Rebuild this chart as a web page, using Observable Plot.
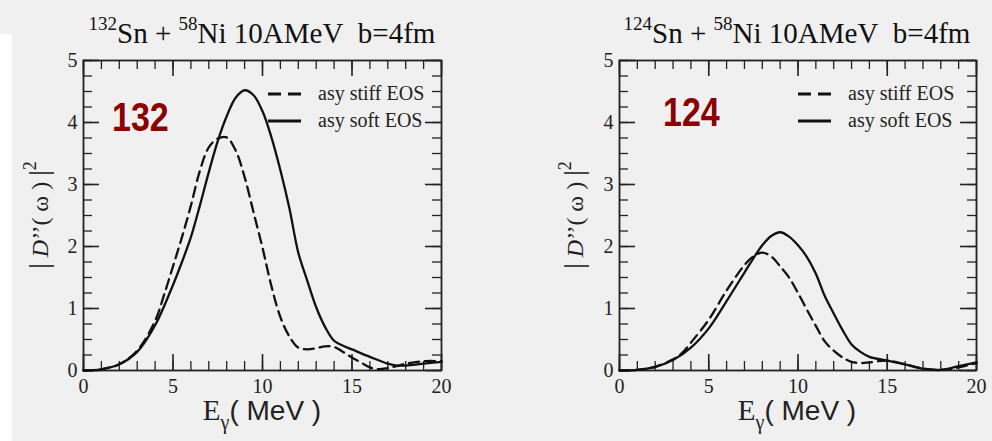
<!DOCTYPE html>
<html>
<head>
<meta charset="utf-8">
<script src="https://cdn.jsdelivr.net/npm/d3@7"></script>
<script src="https://cdn.jsdelivr.net/npm/@observablehq/plot@0.6"></script>
<style>
  html, body { margin: 0; padding: 0; background: #f0f0f0; }
  #wrap { position: relative; width: 992px; height: 441px; overflow: hidden; background: #f0f0f0; }
  .panel { position: absolute; top: 45px; width: 496px; height: 396px; }
  .title { position: absolute; top: 19px; width: 420px; text-align: center; font-family: "Liberation Serif", "Times New Roman", serif; font-size: 29px; line-height: 29px; color: #111; white-space: nowrap; }
  .title .sup { font-size: 19px; position: relative; top: -13px; }
  .big { position: absolute; font-family: "Liberation Sans", Arial, sans-serif; font-weight: bold; font-size: 41px; line-height: 41px; color: #8b0000; transform: scaleX(0.83); transform-origin: 0 0; }
  .ylab { position: absolute; font-family: "Liberation Serif", "Times New Roman", serif; font-size: 24px; line-height: 24px; color: #222; white-space: nowrap; transform: translate(-50%, -50%) rotate(-90deg); }
  .ylab .bar { font-size: 28px; }
  .ylab .sq { font-size: 18px; position: relative; top: -12px; }
  .xlab { position: absolute; top: 396px; transform: translateX(-50%); font-family: "Liberation Sans", Arial, sans-serif; font-size: 28px; line-height: 28px; color: #222; white-space: nowrap; }
  .xlab .e { font-family: "Liberation Serif", "Times New Roman", serif; font-size: 29px; }
  .xlab .g { font-family: "Liberation Serif", "Times New Roman", serif; font-size: 20px; position: relative; top: 9px; }
  .leg { position: absolute; font-family: "Liberation Serif", "Times New Roman", serif; font-size: 20px; color: #222; white-space: nowrap; }
  .leg div { height: 27px; line-height: 27px; display: flex; align-items: center; }
  .leg svg { margin-right: 17px; }
</style>
</head>
<body>
<div id="wrap">
  <div style="position:absolute;left:0;top:34px;width:12px;height:407px;background:#fff"></div>
</div>
<script>
// ---- data ----
const E132soft  = [0, 1, 2, 3, 4, 5, 5.5, 6, 6.5, 7, 7.5, 8, 8.5, 9, 9.5, 10, 10.5, 11, 11.5, 12, 12.5, 13, 13.5, 14, 14.5, 15, 16, 17, 17.5, 18, 19, 20];
const V132soft  = [0, 0.02, 0.1, 0.3, 0.73, 1.38, 1.75, 2.15, 2.66, 3.2, 3.7, 4.1, 4.4, 4.52, 4.44, 4.18, 3.76, 3.23, 2.62, 1.9, 1.45, 1.02, 0.7, 0.48, 0.4, 0.34, 0.22, 0.11, 0.08, 0.08, 0.11, 0.14];

const E132stiff = [0, 1, 2, 3, 4, 4.5, 5, 5.5, 6, 6.5, 7, 7.5, 8, 8.5, 9, 9.5, 10, 10.5, 11, 11.5, 12, 12.5, 13, 13.5, 14, 14.5, 15, 15.5, 16, 16.5, 17, 17.5, 18, 19, 20];
const V132stiff = [0, 0.02, 0.1, 0.32, 0.8, 1.22, 1.68, 2.15, 2.66, 3.22, 3.6, 3.74, 3.76, 3.55, 3.12, 2.55, 1.98, 1.36, 0.86, 0.55, 0.37, 0.34, 0.36, 0.39, 0.38, 0.3, 0.21, 0.13, 0.05, 0.02, 0.04, 0.07, 0.11, 0.15, 0.15];

const E124soft  = [0, 1, 2, 3, 4, 5, 6, 7, 7.5, 8, 8.5, 9, 9.5, 10, 10.5, 11, 11.5, 12, 12.5, 13, 13.5, 14, 15, 16, 17, 18, 19, 20];
const V124soft  = [0, 0.01, 0.06, 0.17, 0.37, 0.68, 1.12, 1.58, 1.81, 2.02, 2.17, 2.23, 2.16, 2.02, 1.83, 1.56, 1.2, 0.92, 0.65, 0.42, 0.3, 0.22, 0.16, 0.1, 0.03, 0.01, 0.07, 0.13];

const E124stiff = [0, 1, 2, 3, 3.5, 4, 5, 6, 7, 7.5, 8, 8.5, 9, 9.5, 10, 10.5, 11, 11.5, 12, 12.5, 13, 13.5, 14, 15, 16, 17, 18, 19, 20];
const V124stiff = [0, 0.01, 0.06, 0.18, 0.28, 0.45, 0.82, 1.29, 1.7, 1.84, 1.9, 1.84, 1.68, 1.5, 1.25, 0.98, 0.72, 0.47, 0.32, 0.21, 0.14, 0.12, 0.13, 0.16, 0.1, 0.03, 0.01, 0.05, 0.12];

const xMajor = [0, 5, 10, 15, 20];
const xMinor = d3.range(0, 21, 1);
const yMajor = [0, 1, 2, 3, 4, 5];
const yMinor = d3.range(0, 5.001, 0.25);
const legendLabels = ["asy stiff EOS", "asy soft EOS"];
const panelLabels = ["132", "124"];
const titleMass = ["132", "124"];

function pts(E, V) { return E.map((e, i) => ({E: e, v: V[i]})); }

function makePlot(soft, stiff, mL, mR) {
  const maj = 16, mn = 9;
  return Plot.plot({
    width: 496, height: 396,
    marginTop: 15, marginBottom: 71, marginLeft: mL, marginRight: mR,
    x: {domain: [0, 20]},
    y: {domain: [0, 5]},
    style: {background: "transparent", fontFamily: "Liberation Serif, Times New Roman, serif", fontSize: "20px", color: "#222", overflow: "visible"},
    marks: [
      Plot.ruleX(xMinor, {x: d => d, y1: () => 0, y2: () => 0, insetBottom: mn, stroke: "#222", strokeWidth: 1.3}),
      Plot.ruleX(xMajor, {x: d => d, y1: () => 0, y2: () => 0, insetBottom: maj, stroke: "#222", strokeWidth: 1.6}),
      Plot.ruleX(xMinor, {x: d => d, y1: () => 5, y2: () => 5, insetBottom: -mn, stroke: "#222", strokeWidth: 1.3}),
      Plot.ruleX(xMajor, {x: d => d, y1: () => 5, y2: () => 5, insetBottom: -maj, stroke: "#222", strokeWidth: 1.6}),
      Plot.ruleY(yMinor, {y: d => d, x1: () => 0, x2: () => 0, insetRight: -mn, stroke: "#222", strokeWidth: 1.3}),
      Plot.ruleY(yMajor, {y: d => d, x1: () => 0, x2: () => 0, insetRight: -maj, stroke: "#222", strokeWidth: 1.6}),
      Plot.ruleY(yMinor, {y: d => d, x1: () => 20, x2: () => 20, insetLeft: -mn, stroke: "#222", strokeWidth: 1.3}),
      Plot.ruleY(yMajor, {y: d => d, x1: () => 20, x2: () => 20, insetLeft: -maj, stroke: "#222", strokeWidth: 1.6}),
      Plot.frame({stroke: "#222", strokeWidth: 1.8}),
      Plot.axisX({ticks: xMajor, tickSize: 0, tickPadding: 8, label: null, tickFormat: d => String(d)}),
      Plot.axisY({ticks: yMajor, tickSize: 0, tickPadding: 6, label: null, tickFormat: d => String(d)}),
      Plot.line(stiff, {x: "E", y: "v", curve: "catmull-rom", stroke: "#111", strokeWidth: 2.3, strokeDasharray: "10,6"}),
      Plot.line(soft, {x: "E", y: "v", curve: "catmull-rom", stroke: "#111", strokeWidth: 2.3})
    ]
  });
}

const wrap = document.getElementById("wrap");
const panels = [
  {left: 0, mL: 83, mR: 55, soft: pts(E132soft, V132soft), stiff: pts(E132stiff, V132stiff), cx: 262, bigX: 112, bigY: 97, ylx: 40, legX: 268},
  {left: 496, mL: 123, mR: 16, soft: pts(E124soft, V124soft), stiff: pts(E124stiff, V124stiff), cx: 797, bigX: 663, bigY: 92, ylx: 575, legX: 798}
];

panels.forEach((p, i) => {
  const div = document.createElement("div");
  div.className = "panel";
  div.style.left = p.left + "px";
  div.appendChild(makePlot(p.soft, p.stiff, p.mL, p.mR));
  wrap.appendChild(div);

  const t = document.createElement("div");
  t.className = "title";
  t.style.left = (p.cx - 210) + "px";
  t.innerHTML = `<span class="sup">${titleMass[i]}</span>Sn + <span class="sup">58</span>Ni 10AMeV&nbsp; b=4fm`;
  wrap.appendChild(t);

  const b = document.createElement("div");
  b.className = "big";
  b.style.left = p.bigX + "px";
  b.style.top = p.bigY + "px";
  b.textContent = panelLabels[i];
  wrap.appendChild(b);

  const yl = document.createElement("div");
  yl.className = "ylab";
  yl.style.left = p.ylx + "px";
  yl.style.top = "215px";
  yl.innerHTML = `<span class="bar">|</span> <i>D</i>’’( ω ) <span class="bar">|</span><span class="sq">2</span>`;
  wrap.appendChild(yl);

  const xl = document.createElement("div");
  xl.className = "xlab";
  xl.style.left = p.cx + "px";
  xl.innerHTML = `<span class="e">E</span><span class="g">γ</span>( MeV )`;
  wrap.appendChild(xl);

  const lg = document.createElement("div");
  lg.className = "leg";
  lg.style.left = p.legX + "px";
  lg.style.top = "80px";
  lg.innerHTML = legendLabels.map((l, k) =>
    `<div><svg width="33" height="6"><line x1="0" x2="33" y1="3" y2="3" stroke="#111" stroke-width="3" ${k === 0 ? 'stroke-dasharray="13,7"' : ''}/></svg>${l}</div>`
  ).join("");
  wrap.appendChild(lg);
});
</script>
</body>
</html>
